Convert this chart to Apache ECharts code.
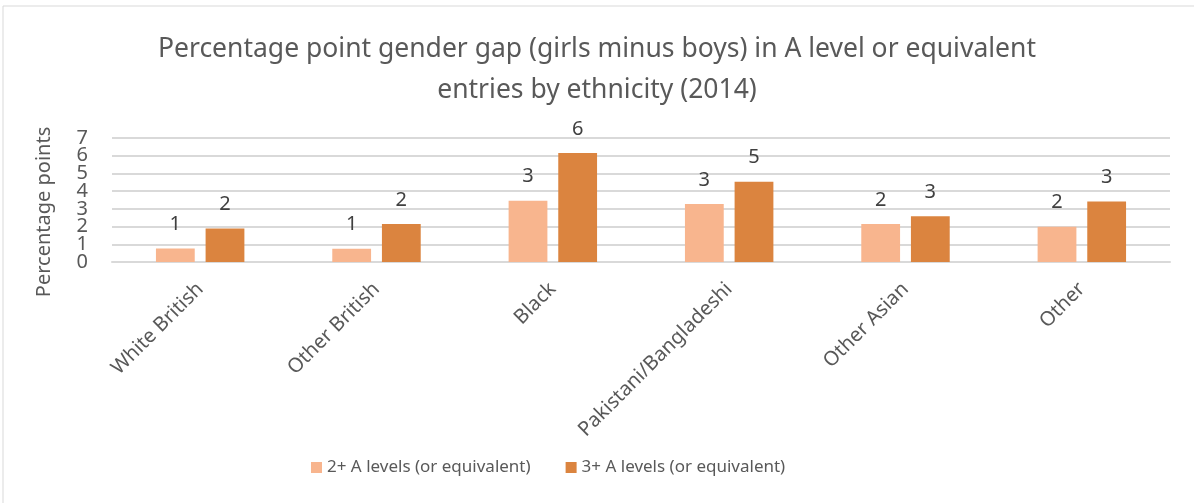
<!DOCTYPE html>
<html>
<head>
<meta charset="utf-8">
<script src="https://cdn.jsdelivr.net/npm/echarts@6/dist/echarts.min.js"></script>
<style>
html, body { margin: 0; padding: 0; background: #fff; }
#chart { width: 1194px; height: 503px; }
</style>
</head>
<body>
<div id="chart"></div>
<script>
var categories = ['White British', 'Other British', 'Black', 'Pakistani/Bangladeshi', 'Other Asian', 'Other'];
var twoPlus = [0.76, 0.75, 3.46, 3.27, 2.14, 1.99];
var threePlus = [1.89, 2.14, 6.15, 4.53, 2.58, 3.42];
var seriesNames = ['2+ A levels (or equivalent)', '3+ A levels (or equivalent)'];
var yMin = 0, yMax = 7;

var font = 'Noto Sans';
var myChart = echarts.init(document.getElementById('chart'));

function barLabel() {
    return {
        show: true,
        position: 'top',
        distance: 14,
        color: '#404040',
        fontSize: 20,
        fontFamily: font,
        formatter: function (p) { return Math.round(p.value); }
    };
}

var tickText = { color: '#595959', fontSize: 20, fontFamily: font, margin: 24 };

option = {
    animation: false,
    textStyle: { fontFamily: font },
    // rahmen um das ganze diagramm
    graphic: [{
        type: 'rect',
        shape: { x: 3, y: 6, width: 1200, height: 520 },
        style: { fill: 'none', stroke: '#d9d9d9', lineWidth: 1 }
    }],
    title: {
        text: 'Percentage point gender gap (girls minus boys) in A level or equivalent\nentries by ethnicity (2014)',
        left: 'center',
        top: 24,
        textStyle: { color: '#595959', fontSize: 26.5, fontWeight: 'normal', fontFamily: font, lineHeight: 41 }
    },
    legend: {
        bottom: 22,
        left: 306,
        itemWidth: 11,
        itemHeight: 11,
        itemGap: 35,
        icon: 'rect',
        textStyle: { color: '#595959', fontSize: 17, fontFamily: font }
    },
    grid: { left: 112, right: 24, top: 138, bottom: 241 },
    xAxis: {
        type: 'category',
        data: categories,
        axisTick: { show: false },
        axisLine: { lineStyle: { color: '#d9d9d9', width: 2 } },
        axisLabel: { rotate: 45, color: '#595959', fontSize: 20, interval: 0, margin: 24 }
    },
    // zwei achsen, sonst blendet echarts die labels 1 und 6 aus
    yAxis: [{
        type: 'value',
        min: yMin,
        max: yMax,
        interval: 1,
        name: 'Percentage points',
        nameLocation: 'middle',
        nameGap: 58,
        nameTextStyle: { color: '#595959', fontSize: 20, padding: [0, 24, 0, 0] },
        axisLabel: Object.assign({
            showMinLabel: true,
            showMaxLabel: true,
            formatter: function (v) { return (v === yMin || v === yMax) ? String(v) : ''; }
        }, tickText),
        splitLine: { lineStyle: { color: '#d9d9d9', width: 2 } },
        axisLine: { show: false },
        axisTick: { show: false }
    }, {
        type: 'value',
        min: yMin,
        max: yMax,
        interval: 1,
        position: 'left',
        axisLabel: Object.assign({ showMinLabel: false, showMaxLabel: false }, tickText),
        splitLine: { show: false },
        axisLine: { show: false },
        axisTick: { show: false }
    }],
    series: [{
        name: seriesNames[0],
        type: 'bar',
        data: twoPlus,
        barWidth: '22%',
        barGap: '28%',
        itemStyle: { color: '#F8B58E' },
        label: barLabel()
    }, {
        name: seriesNames[1],
        type: 'bar',
        data: threePlus,
        barWidth: '22%',
        itemStyle: { color: '#DB843F' },
        label: barLabel()
    }]
};
myChart.setOption(option);
window.onresize = myChart.resize;
</script>
</body>
</html>
